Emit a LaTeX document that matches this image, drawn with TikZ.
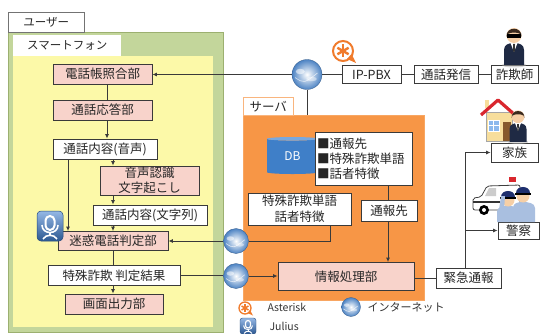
\documentclass[tikz,border=0pt]{standalone}
\usepackage{fontspec}
\newfontfamily\jp{Noto Sans CJK JP}
\usetikzlibrary{shapes.geometric,arrows.meta,calc}
\definecolor{pinkbox}{HTML}{F8D3CB}
\definecolor{greenbg}{HTML}{C3D69B}
\definecolor{greenline}{HTML}{9CB070}
\definecolor{yellowbg}{HTML}{FCF9A8}
\definecolor{orangebg}{HTML}{F79646}
\definecolor{linegray}{HTML}{3A3A3A}
\definecolor{dbblue}{HTML}{3F7FC8}
\definecolor{dbtop}{HTML}{79A8DE}
\definecolor{astorange}{HTML}{F07B2C}
\definecolor{globeblue}{HTML}{5A9AE6}
\definecolor{iconblue}{HTML}{3F7ED0}
\definecolor{suitnavy}{HTML}{1F2A44}
\definecolor{skin}{HTML}{F6CFA6}
\definecolor{hairbrown}{HTML}{3B2A1E}
\definecolor{roofred}{HTML}{D9272E}
\definecolor{wallbeige}{HTML}{F7DE9C}
\definecolor{copblue}{HTML}{A9BFE0}
\definecolor{capnavy}{HTML}{1E2F6E}
\begin{document}
\begin{tikzpicture}[x=1pt,y=-1pt,
  txt/.style={font=\jp\fontsize{12.5}{15}\selectfont, text=black!85},
  box/.style={txt, draw=linegray, line width=0.8pt, fill=white, inner sep=0pt,
    minimum height=20pt, align=center},
  pbox/.style={box, fill=pinkbox},
  tabbox/.style={txt, fill=white, inner sep=0pt, anchor=north west},
  conn/.style={draw=linegray, line width=1pt},
  arr/.style={conn, -{Latex[length=4.5pt,width=4pt]}},
  globe/.style={circle, inner sep=0pt, minimum size=#1, shade,
    inner color=white, outer color=globeblue!85!black, draw=globeblue!60!black, line width=0.3pt},
  globe/.default=25,
  legend/.style={font=\jp\fontsize{10.5}{12}\selectfont, text=black!80, anchor=west},
  asteriskicon/.pic={
    \draw[astorange, line width=2pt] (0,0) circle (10);
    \fill[astorange] (4,8) -- (13,12) -- (8.5,3) -- cycle;
    \foreach \a in {30,90,150,210,270,330}
      \draw[astorange, line width=2.4pt] (0,0) -- (\a:6.5);
  },
  smallasterisk/.pic={
    \draw[astorange, line width=1.3pt] (0,0) circle (6);
    \fill[astorange] (2.5,5) -- (8,7.5) -- (5,2) -- cycle;
    \foreach \a in {30,90,150,210,270,330}
      \draw[astorange, line width=1.5pt] (0,0) -- (\a:4);
  },
  juliusicon/.pic={
    \shade[top color=iconblue!55!white, bottom color=iconblue!70!black,
      rounded corners=4pt, draw=iconblue!60!black, line width=0.5pt] (-13,-15) rectangle (13,15);
    \draw[white, line width=2pt, rounded corners=4.5pt] (-4.5,-10) rectangle (4.5,4);
    \draw[white, line width=1.6pt] (-8,-1) .. controls (-8,9) and (8,9) .. (8,-1);
    \draw[white, line width=1.6pt] (0,7) -- (0,10);
    \draw[white, line width=1.6pt] (-7,13) .. controls (-4,8) and (4,8) .. (7,13);
  },
  smalljulius/.pic={
    \shade[top color=iconblue!55!white, bottom color=iconblue!70!black,
      rounded corners=2.5pt, draw=iconblue!60!black, line width=0.4pt] (-8,-8) rectangle (8,8);
    \draw[white, line width=1.2pt, rounded corners=2.5pt] (-2.5,-5.5) rectangle (2.5,2);
    \draw[white, line width=1pt] (-4.5,-0.5) .. controls (-4.5,5) and (4.5,5) .. (4.5,-0.5);
    \draw[white, line width=1pt] (0,4) -- (0,5.5);
    \draw[white, line width=1pt] (-4,7.5) .. controls (-2,4.5) and (2,4.5) .. (4,7.5);
  },
  personicon/.pic={
    \fill[black!30, opacity=0.5] (0,21) ellipse (12 and 2.5);
    \fill[suitnavy] (-10,21) -- (-10,6) .. controls (-10,1) and (-6,-1) .. (0,-1)
      .. controls (6,-1) and (10,1) .. (10,6) -- (10,21) -- cycle;
    \fill[white] (-3.5,-1) -- (3.5,-1) -- (0,8) -- cycle;
    \fill[black!80] (-1,0) -- (1,0) -- (0.8,7) -- (0,8.5) -- (-0.8,7) -- cycle;
    \fill[skin] (0,-8.5) circle (7.5);
    \fill[hairbrown] (-7.5,-7) .. controls (-8.5,-18) and (8.5,-18) .. (7.5,-7)
      -- (6.5,-10) .. controls (3,-12) and (-3,-12) .. (-6.5,-10) -- cycle;
  }
]
\useasboundingbox (0,0) rectangle (540,334);

% ---------- user / smartphone ----------
\node[draw=greenline, line width=0.6pt, fill=greenbg, minimum width=215, minimum height=300,
  inner sep=0pt, anchor=north west] (phoneframe) at (8,32) {};
\node[tabbox, draw=black!55, line width=0.6pt, minimum width=76, minimum height=20,
  font=\jp\fontsize{11.5}{14}\selectfont] (usertab) at (8,12) {ユーザー};
\node[fill=yellowbg, minimum width=200, minimum height=271, inner sep=0pt, anchor=north west] (phonearea) at (13,56) {};
\node[tabbox, minimum width=108, minimum height=21, font=\jp\fontsize{11.5}{14}\selectfont] (phonetab) at (13,35) {スマートフォン};

\node[pbox, minimum width=99] (phonebook) at (102.5,74) {電話帳照合部};
\node[pbox, minimum width=99] (answer) at (102.5,110) {通話応答部};
\node[box, minimum width=104] (voice) at (105,149) {通話内容(音声)};
\node[pbox, minimum width=99, minimum height=29] (asr) at (149.5,180.5) {音声認識\\文字起こし};
\node[box, minimum width=114] (textc) at (150,215) {通話内容(文字列)};
\node[pbox, minimum width=110, minimum height=19] (judge) at (113,241) {迷惑電話判定部};
\node[box, minimum width=132] (result) at (114,275.5) {特殊詐欺 判定結果};
\node[pbox, minimum width=98] (screen) at (114,304) {画面出力部};
\pic at (50,226) {juliusicon};

% ---------- server ----------
\node[fill=orangebg, draw=orangebg!85!white, line width=0.6pt, minimum width=181, minimum height=185,
  inner sep=0pt, anchor=north west] (server) at (243,115) {};
\node[tabbox, draw=orangebg!70!white, line width=0.6pt, minimum width=50, minimum height=18] (servertab) at (243,97) {サーバ};
\node[cylinder, shape border rotate=90, aspect=0.22, minimum width=51, minimum height=37, inner sep=0pt,
  cylinder uses custom fill, cylinder body fill=dbblue, cylinder end fill=dbtop,
  font=\jp\fontsize{12}{14}\selectfont, text=white] (db) at (292.5,156.5) {DB};
\node[box, minimum width=97, minimum height=53, align=left, text width=93] (list) at (363.5,158.5)
  {■通報先\\■特殊詐欺単語\\■話者特徴};
\node[box, minimum width=103, minimum height=32, font=\jp\fontsize{12.5}{16}\selectfont] (words) at (299.5,209) {特殊詐欺単語\\話者特徴};
\node[box, minimum width=56, minimum height=21] (notify) at (389,210.5) {通報先};
\node[pbox, minimum width=136, minimum height=28] (proc) at (346,276.5) {情報処理部};

% ---------- outside parties ----------
\node[box, minimum width=59, minimum height=18] (ippbx) at (371.5,74.5) {IP-PBX};
\node[box, minimum width=64, minimum height=18] (call) at (446,74.5) {通話発信};
\node[box, minimum width=47, minimum height=18] (fraud) at (514.5,74.5) {詐欺師};
\node[box, minimum width=47, minimum height=19] (family) at (514.5,152.5) {家族};
\node[box, minimum width=41, minimum height=17] (police) at (518.5,230.5) {警察};
\node[box, minimum width=65, minimum height=20] (emerg) at (468.5,278) {緊急通報};

\pic at (343,51) {asteriskicon};
\pic at (514,44) {personicon};
% sunglasses of the caller
\fill[black] (507,34.5) rectangle (521,38);

% house with a family member
\fill[wallbeige] (485,108) rectangle (489,100);
\fill[wallbeige, draw=black!35, line width=0.3pt] (486,112) rectangle (512,141);
\fill[globeblue!70!white, draw=white, line width=0.8pt] (488,120) rectangle (499,131);
\draw[white, line width=0.8pt] (493.5,120) -- (493.5,131) (488,125.5) -- (499,125.5);
\fill[brown!70!black] (503,122) rectangle (511,141);
\draw[roofred, line width=3.2pt, line join=round] (481,115) -- (498,100) -- (515,115);
\pic[scale=0.85] at (518,124) {personicon};

% police car with two officers
\fill[white, draw=black!75, line width=0.8pt, rounded corners=2pt]
  (473,210) -- (473,198) -- (481,197) -- (487,186) -- (520,185) -- (520,210) -- cycle;
\fill[black!20] (489,188) -- (496,188) -- (496,196) -- (485,196) -- cycle;
\fill[black!80] (473,201) rectangle (500,203);
\fill[black] (484,210) circle (5);
\fill[white] (484,210) circle (2);
\fill[roofred] (509,177) rectangle (516,182);
% officer on the right
\fill[copblue] (513,222) -- (513,208) .. controls (513,203) and (518,202) .. (523,202)
  .. controls (528,202) and (535,203) .. (535,208) -- (535,222) -- cycle;
\fill[skin] (523,196) circle (6.5);
\fill[capnavy] (516,193) .. controls (516,185) and (530,185) .. (530,193) -- cycle;
\fill[black] (515,193) rectangle (531,195);
% officer on the left, saluting
\fill[copblue] (497,222) -- (497,212) .. controls (497,207) and (502,206) .. (508,206)
  .. controls (514,206) and (520,207) .. (520,212) -- (520,222) -- cycle;
\fill[skin] (508,200) circle (6.5);
\fill[capnavy] (501,197) .. controls (501,189) and (515,189) .. (515,197) -- cycle;
\fill[black] (500,197) rectangle (516,199);
\fill[copblue] (499,210) -- (501,196) -- (505,196) -- (504,211) -- cycle;

% ---------- internet nodes ----------
\node[globe=30] (g1) at (307,74.5) {};
\node[globe] (g2) at (236,241) {};
\node[globe] (g3) at (236,276) {};
\node[globe=19] (leggl) at (351,307) {};
\foreach \g/\r in {g1/15, g2/12.5, g3/12.5, leggl/9.5} {
  \fill[white, opacity=0.55] ($(\g)+(-0.45*\r,-0.2*\r)$) ellipse ({0.3*\r} and {0.18*\r});
  \fill[white, opacity=0.45] ($(\g)+(0.3*\r,0.3*\r)$) ellipse ({0.35*\r} and {0.15*\r});
  \draw[white, opacity=0.7, line width=0.6pt] ($(\g)+(-0.8*\r,0.2*\r)$) .. controls ($(\g)+(-0.2*\r,0.6*\r)$) .. ($(\g)+(0.7*\r,-0.1*\r)$);
}

% ---------- legend ----------
\pic at (245,308) {smallasterisk};
\node[legend] (legast) at (264,307) {Asterisk};
\node[legend, font=\jp\fontsize{11}{12}\selectfont] (legnet) at (364,307) {インターネット};
\pic at (248,326) {smalljulius};
\node[legend] (legjul) at (266,326) {Julius};

% ---------- connectors ----------
\coordinate (colA) at (107,0);
\coordinate (colB) at (113,0);
\coordinate (colC) at (68,0);
\coordinate (colD) at (330,0);
\coordinate (colE) at (388,0);
\coordinate (colF) at (465,0);

\draw[arr] (g1.west) -- (g1.west -| phonebook.east);
\draw[conn] (g1.east) -- (ippbx.west);
\draw[conn] (ippbx.east) -- (call.west);
\draw[conn] (call.east) -- (fraud.west);
\draw[conn] (g1.south) -- (g1.south |- server.north);

\draw[conn] (colA |- phonebook.south) -- (colA |- answer.north);
\draw[arr] (colA |- answer.south) -- (colA |- voice.north);
\draw[arr] (colB |- voice.south) -- (colB |- asr.north);
\draw[arr] (colB |- asr.south) -- (colB |- textc.north);
\draw[arr] (colB |- textc.south) -- (colB |- judge.north);
\draw[arr] (colC |- voice.south) -- (colC |- judge.north);
\draw[conn] (colB |- judge.south) -- (colB |- result.north);
\draw[arr] (colB |- result.south) -- (colB |- screen.north);

\draw[arr] (g2.west) -- (g2.west -| judge.east);
\draw[conn] (colD |- words.south) |- (g2.east);
\draw[conn] (result.east) -- (result.east -| g3.west);
\draw[arr] (g3.east) -- (g3.east -| proc.west);
\draw[conn] (colE |- list.south) -- (colE |- notify.north);
\draw[arr] (colE |- notify.south) -- (colE |- proc.north);
\draw[conn] (proc.east |- emerg.west) -- (emerg.west);
\draw[arr] (colF |- emerg.north) |- (family.west);
\draw[arr] (colF |- police.west) -- (police.west);
\end{tikzpicture}
\end{document}
